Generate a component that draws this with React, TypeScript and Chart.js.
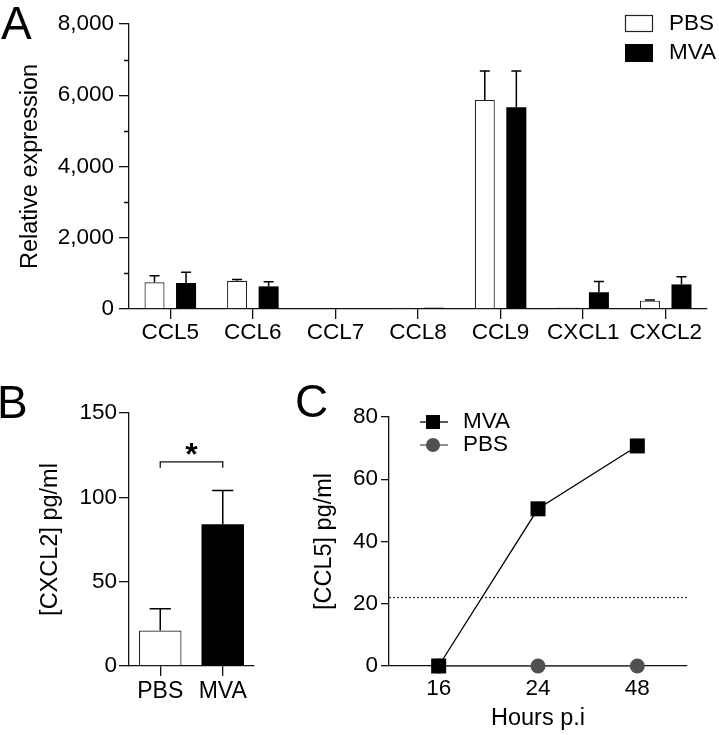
import React, { useEffect, useRef } from 'react';
import { Chart, registerables } from 'chart.js';
Chart.register(...registerables);

const FONT = "'Liberation Sans', Arial, Helvetica, sans-serif";
Chart.defaults.font.family = FONT;
Chart.defaults.color = '#000';

// ---------- Panel A ----------
const genes = ['CCL5', 'CCL6', 'CCL7', 'CCL8', 'CCL9', 'CXCL1', 'CXCL2'];
const pbsExpr = [750, 795, 0, 35, 5870, 45, 235];
const pbsExprErr = [185, 35, 0, 0, 810, 0, 15];
const mvaExpr = [730, 635, 0, 35, 5660, 470, 690];
const mvaExprErr = [300, 130, 0, 0, 1020, 300, 215];
const exprMax = 8000;
const exprStep = 2000;
const exprMinorTicks = [1000, 3000, 5000, 7000];
const seriesNames = ['PBS', 'MVA'];

// ---------- Panel B ----------
const groupsB = ['PBS', 'MVA'];
const cxcl2Mean = [21, 84];
const cxcl2Err = [13, 20];
const cxcl2Max = 150;
const cxcl2Step = 50;
const bracketLevel = 121;
const bracketEnd = 117.5;
const sigMark = '*';

// ---------- Panel C ----------
const hours = ['16', '24', '48'];
const ccl5Mva = [0, 50.5, 70.7];
const ccl5Pbs = [0, 0, 0];
const ccl5Max = 80;
const ccl5Step = 20;
const detectionLimit = 22;

const AXIS = '#111';
const AXW = 1.3;
const TXT = 22.5;
const TITLE = 23.5;

const errorBarPlugin = {
  id: 'errorBars',
  afterDatasetsDraw(chart: any) {
    const ctx = chart.ctx;
    const y = chart.scales.y;
    chart.data.datasets.forEach((ds: any, i: number) => {
      const errs = ds.errors;
      if (!errs) return;
      const meta = chart.getDatasetMeta(i);
      meta.data.forEach((bar: any, j: number) => {
        const v = ds.data[j];
        const e = errs[j];
        if (!e) return;
        const top = y.getPixelForValue(v + e);
        const cap = bar.width / 4;
        ctx.save();
        ctx.strokeStyle = '#000';
        ctx.lineWidth = 1.5;
        ctx.beginPath();
        ctx.moveTo(bar.x, bar.y);
        ctx.lineTo(bar.x, top);
        ctx.moveTo(bar.x - cap, top);
        ctx.lineTo(bar.x + cap, top);
        ctx.stroke();
        ctx.restore();
      });
    });
  },
};

const minorTickPlugin = {
  id: 'minorTicks',
  afterDraw(chart: any) {
    const ctx = chart.ctx;
    const y = chart.scales.y;
    const left = chart.chartArea.left;
    ctx.save();
    ctx.strokeStyle = AXIS;
    ctx.lineWidth = AXW;
    ctx.beginPath();
    exprMinorTicks.forEach((v) => {
      const py = Math.round(y.getPixelForValue(v)) + 0.5;
      ctx.moveTo(left - 5, py);
      ctx.lineTo(left, py);
    });
    ctx.stroke();
    ctx.restore();
  },
};

const legendAPlugin = {
  id: 'legendA',
  afterDraw(chart: any) {
    const ctx = chart.ctx;
    ctx.save();
    ctx.fillStyle = '#fff';
    ctx.strokeStyle = '#222';
    ctx.lineWidth = 1.2;
    ctx.fillRect(625.5, 15.5, 27, 16);
    ctx.strokeRect(625.5, 15.5, 27, 16);
    ctx.fillStyle = '#000';
    ctx.fillRect(625, 44, 28, 18);
    ctx.font = `${TXT}px ${FONT}`;
    ctx.textBaseline = 'middle';
    ctx.textAlign = 'left';
    ctx.fillText(seriesNames[0], 669, 24);
    ctx.fillText(seriesNames[1], 669, 53);
    ctx.restore();
  },
};

const bracketPlugin = {
  id: 'bracket',
  afterDraw(chart: any) {
    const ctx = chart.ctx;
    const meta = chart.getDatasetMeta(0);
    const x1 = meta.data[0].x;
    const x2 = meta.data[1].x;
    const y = chart.scales.y.getPixelForValue(bracketLevel);
    const yEnd = chart.scales.y.getPixelForValue(bracketEnd);
    ctx.save();
    ctx.strokeStyle = '#111';
    ctx.lineWidth = 1.3;
    ctx.beginPath();
    ctx.moveTo(x1, yEnd);
    ctx.lineTo(x1, y);
    ctx.lineTo(x2, y);
    ctx.lineTo(x2, yEnd);
    ctx.stroke();
    ctx.fillStyle = '#000';
    ctx.font = `bold 32px ${FONT}`;
    ctx.textAlign = 'center';
    ctx.textBaseline = 'alphabetic';
    ctx.fillText(sigMark, (x1 + x2) / 2, y + 3.5);
    ctx.restore();
  },
};

const limitLinePlugin = {
  id: 'limitLine',
  beforeDatasetsDraw(chart: any) {
    const ctx = chart.ctx;
    const y = chart.scales.y.getPixelForValue(detectionLimit);
    const { left, right } = chart.chartArea;
    ctx.save();
    ctx.strokeStyle = '#333';
    ctx.lineWidth = 1.3;
    ctx.setLineDash([2, 2]);
    ctx.beginPath();
    ctx.moveTo(left, y);
    ctx.lineTo(right, y);
    ctx.stroke();
    ctx.restore();
  },
};

const legendCPlugin = {
  id: 'legendC',
  afterDraw(chart: any) {
    const ctx = chart.ctx;
    ctx.save();
    // MVA
    ctx.strokeStyle = '#000';
    ctx.lineWidth = 1.3;
    ctx.beginPath();
    ctx.moveTo(130, 62);
    ctx.lineTo(158, 62);
    ctx.stroke();
    ctx.fillStyle = '#000';
    ctx.fillRect(143 - 7, 62 - 7, 14, 14);
    // PBS
    ctx.strokeStyle = '#555';
    ctx.beginPath();
    ctx.moveTo(130, 85);
    ctx.lineTo(158, 85);
    ctx.stroke();
    ctx.fillStyle = '#505050';
    ctx.beginPath();
    ctx.arc(143, 85, 7, 0, Math.PI * 2);
    ctx.fill();
    ctx.fillStyle = '#000';
    ctx.font = `${TXT}px ${FONT}`;
    ctx.textBaseline = 'middle';
    ctx.textAlign = 'left';
    ctx.fillText(chart.data.datasets[0].label, 173, 62);
    ctx.fillText(chart.data.datasets[1].label, 173, 85);
    ctx.restore();
  },
};

const tickFont = { family: FONT, size: TXT };
const titleFont = { family: FONT, size: TITLE };

function useChart(ref: React.RefObject<HTMLCanvasElement>, make: (c: HTMLCanvasElement) => Chart) {
  useEffect(() => {
    if (!ref.current) return;
    const ch = make(ref.current);
    return () => ch.destroy();
  }, []);
}

export default function App() {
  const refA = useRef<HTMLCanvasElement>(null);
  const refB = useRef<HTMLCanvasElement>(null);
  const refC = useRef<HTMLCanvasElement>(null);

  useChart(refA, (c) =>
    new Chart(c, {
      type: 'bar',
      data: {
        labels: genes,
        datasets: [
          { label: seriesNames[0], data: pbsExpr, errors: pbsExprErr, backgroundColor: '#fff', borderColor: '#222', borderWidth: 1.2 } as any,
          { label: seriesNames[1], data: mvaExpr, errors: mvaExprErr, backgroundColor: '#000', borderColor: '#000', borderWidth: 0 } as any,
        ],
      },
      options: {
        responsive: false,
        animation: false,
        devicePixelRatio: 1,
        layout: { padding: { left: 0, right: 12, top: 24, bottom: 0 } },
        plugins: { legend: { display: false }, tooltip: { enabled: false } },
        datasets: { bar: { categoryPercentage: 0.764, barPercentage: 0.635 } },
        scales: {
          x: {
            grid: { drawOnChartArea: false, offset: false, color: AXIS, lineWidth: AXW, tickLength: 10 },
            border: { color: AXIS, width: AXW },
            ticks: { color: '#000', font: { family: FONT, size: 22.5 }, padding: 0, maxRotation: 0, autoSkip: false },
            afterFit: (s: any) => { s.height = 41; },
          },
          y: {
            min: 0,
            max: exprMax,
            grid: { drawOnChartArea: false, color: AXIS, lineWidth: AXW, tickLength: 10 },
            border: { color: AXIS, width: AXW },
            ticks: { stepSize: exprStep, color: '#000', font: tickFont, padding: 5 },
            title: { display: true, text: 'Relative expression', color: '#000', font: titleFont, padding: { top: 16, bottom: 0 } },
            afterFit: (s: any) => { s.width = 129; },
          },
        },
      } as any,
      plugins: [errorBarPlugin, minorTickPlugin, legendAPlugin],
    })
  );

  useChart(refB, (c) =>
    new Chart(c, {
      type: 'bar',
      data: {
        labels: groupsB,
        datasets: [
          {
            label: 'CXCL2',
            data: cxcl2Mean,
            errors: cxcl2Err,
            backgroundColor: ['#fff', '#000'],
            borderColor: ['#222', '#000'],
            borderWidth: [1.2, 0],
          } as any,
        ],
      },
      options: {
        responsive: false,
        animation: false,
        devicePixelRatio: 1,
        layout: { padding: { left: 0, right: 36, top: 53, bottom: 0 } },
        plugins: { legend: { display: false }, tooltip: { enabled: false } },
        datasets: { bar: { categoryPercentage: 1, barPercentage: 0.68 } },
        scales: {
          x: {
            grid: { drawOnChartArea: false, offset: false, color: AXIS, lineWidth: AXW, tickLength: 10 },
            border: { color: AXIS, width: AXW },
            ticks: { color: '#000', font: { family: FONT, size: 23 }, padding: 2, maxRotation: 0, autoSkip: false },
            afterFit: (s: any) => { s.height = 69; },
          },
          y: {
            min: 0,
            max: cxcl2Max,
            grid: { drawOnChartArea: false, color: AXIS, lineWidth: AXW, tickLength: 10 },
            border: { color: AXIS, width: AXW },
            ticks: { stepSize: cxcl2Step, color: '#000', font: tickFont, padding: 2 },
            title: { display: true, text: '[CXCL2] pg/ml', color: '#000', font: titleFont, padding: { top: 36, bottom: 0 } },
            afterFit: (s: any) => { s.width = 129; },
          },
        },
      } as any,
      plugins: [errorBarPlugin, bracketPlugin],
    })
  );

  useChart(refC, (c) =>
    new Chart(c, {
      type: 'line',
      data: {
        labels: hours,
        datasets: [
          {
            label: 'MVA',
            data: ccl5Mva,
            borderColor: '#000',
            backgroundColor: '#000',
            borderWidth: 1.3,
            pointStyle: 'rect',
            pointRadius: 10.6,
            pointBorderWidth: 0,
            clip: false,
          } as any,
          {
            label: 'PBS',
            data: ccl5Pbs,
            borderColor: '#555',
            backgroundColor: '#505050',
            borderWidth: 1.3,
            pointStyle: 'circle',
            pointRadius: 7.5,
            pointBorderWidth: 0,
            clip: false,
          } as any,
        ],
      },
      options: {
        responsive: false,
        animation: false,
        devicePixelRatio: 1,
        layout: { padding: { left: 0, right: 32, top: 57, bottom: 0 } },
        plugins: { legend: { display: false }, tooltip: { enabled: false } },
        scales: {
          x: {
            offset: true,
            grid: { drawOnChartArea: false, drawTicks: false, color: AXIS, lineWidth: AXW },
            border: { color: AXIS, width: AXW },
            ticks: { color: '#000', font: tickFont, padding: 9, maxRotation: 0, autoSkip: false },
            title: { display: true, text: 'Hours p.i', color: '#000', font: titleFont, padding: { top: 0, bottom: 2.5 } },
            afterFit: (s: any) => { s.height = 69; },
          },
          y: {
            min: 0,
            max: ccl5Max,
            grid: { drawOnChartArea: false, color: AXIS, lineWidth: AXW, tickLength: 8 },
            border: { color: AXIS, width: AXW },
            ticks: { stepSize: ccl5Step, color: '#000', font: tickFont, padding: 3 },
            title: { display: true, text: '[CCL5] pg/ml', color: '#000', font: titleFont, padding: { top: 20, bottom: 0 } },
            afterFit: (s: any) => { s.width = 99; },
          },
        },
      } as any,
      plugins: [limitLinePlugin, legendCPlugin],
    })
  );

  const letter: React.CSSProperties = {
    position: 'absolute',
    fontFamily: FONT,
    fontSize: 46,
    lineHeight: 1,
    color: '#000',
  };

  return (
    <div style={{ position: 'absolute', left: 0, top: 0, width: 719, height: 735, background: '#fff', overflow: 'hidden' }}>
      <canvas ref={refA} width={719} height={350} style={{ position: 'absolute', left: 0, top: 0, width: 719, height: 350 }} />
      <canvas ref={refB} width={290} height={375} style={{ position: 'absolute', left: 0, top: 360, width: 290, height: 375 }} />
      <canvas ref={refC} width={429} height={375} style={{ position: 'absolute', left: 290, top: 360, width: 429, height: 375 }} />
      <div style={{ ...letter, left: 1, top: 0 }}>A</div>
      <div style={{ ...letter, left: -3, top: 379 }}>B</div>
      <div style={{ ...letter, left: 295, top: 378 }}>C</div>
    </div>
  );
}
